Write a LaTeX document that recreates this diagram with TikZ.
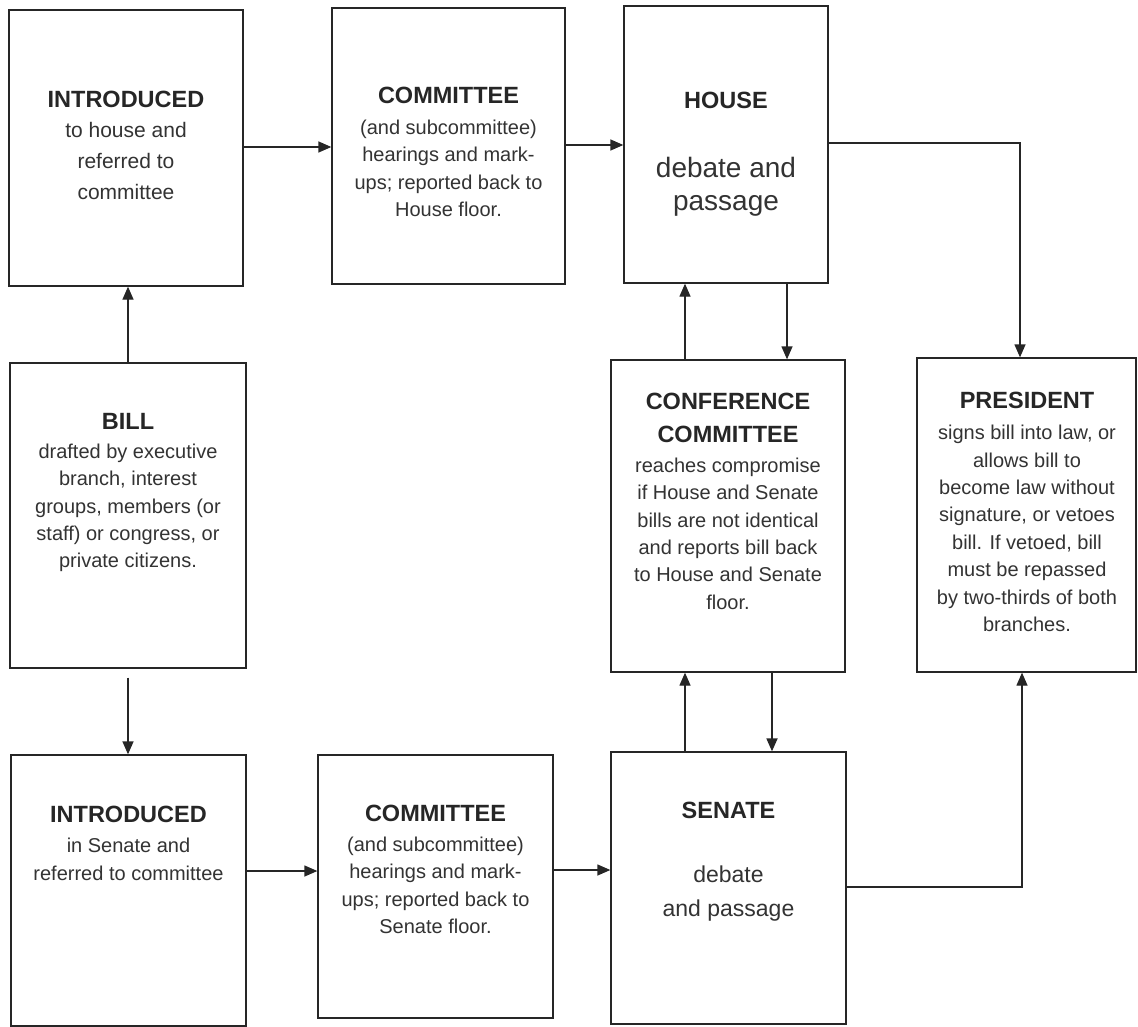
\documentclass[tikz,border=0pt]{standalone}
\usepackage{fontspec}
\setmainfont{Liberation Sans}
\usetikzlibrary{arrows.meta}
\begin{document}
\begin{tikzpicture}[x=1pt,y=-1pt,
  box/.style={draw=black!85, line width=1.3pt, rectangle, inner sep=0pt},
  ttl/.style={anchor=base, inner sep=0pt, text=black!85, align=center, font=\fontsize{23.5}{33}\selectfont\bfseries},
  bdy/.style={anchor=north, inner sep=0pt, text=black!80, align=center, font=\fontsize{20}{27.4}\selectfont},
  arr/.style={draw=black!85, line width=1.3pt, -{Triangle[length=13pt,width=11pt]}}
]
\useasboundingbox[fill=white] (0,0) rectangle (1138,1027);

% boxes
\node[box, minimum width=234, minimum height=276] (introH) at (126,148) {};
\node[box, minimum width=233, minimum height=276] (commH) at (448.5,146) {};
\node[box, minimum width=204, minimum height=277] (house) at (726,144.5) {};
\node[box, minimum width=236, minimum height=305] (bill) at (128,515.5) {};
\node[box, minimum width=234, minimum height=312] (conf) at (728,516) {};
\node[box, minimum width=219, minimum height=314] (pres) at (1026.5,515) {};
\node[box, minimum width=235, minimum height=271] (introS) at (128.5,890.5) {};
\node[box, minimum width=235, minimum height=263] (commS) at (435.5,886.5) {};
\node[box, minimum width=235, minimum height=272] (senate) at (728.5,888) {};

% texts
\node[ttl] (introHt) at (126,107.5) {INTRODUCED};
\node[bdy, font=\fontsize{21}{31}\selectfont] (introHb) at (126,122) {to house and\\referred to\\committee};

\node[ttl] (commHt) at (448.5,103.5) {COMMITTEE};
\node[bdy] (commHb) at (448.5,119.6) {(and subcommittee)\\hearings and mark-\\ups; reported back to\\House floor.};

\node[ttl] (houset) at (726,108.5) {HOUSE};
\node[bdy, font=\fontsize{28}{33}\selectfont] (houseb) at (726,157) {debate and\\passage};

\node[ttl] (billt) at (128,429.5) {BILL};
\node[bdy] (billb) at (128,443.6) {drafted by executive\\branch, interest\\groups, members (or\\staff) or congress, or\\private citizens.};

\node[ttl, anchor=north] (conft) at (728,393) {CONFERENCE\\COMMITTEE};
\node[bdy] (confb) at (728,457.6) {reaches compromise\\if House and Senate\\bills are not identical\\and reports bill back\\to House and Senate\\floor.};

\node[ttl] (prest) at (1027,408.5) {PRESIDENT};
\node[bdy] (presb) at (1027,425) {signs bill into law, or\\allows bill to\\become law without\\signature, or vetoes\\bill. If vetoed, bill\\must be repassed\\by two-thirds of both\\branches.};

\node[ttl] (introSt) at (128.5,822.5) {INTRODUCED};
\node[bdy, font=\fontsize{20}{28}\selectfont] (introSb) at (128.5,837.6) {in Senate and\\referred to committee};

\node[ttl] (commSt) at (435.5,821.5) {COMMITTEE};
\node[bdy] (commSb) at (435.5,836.6) {(and subcommittee)\\hearings and mark-\\ups; reported back to\\Senate floor.};

\node[ttl] (senatet) at (728.5,818.5) {SENATE};
\node[bdy, font=\fontsize{23}{34}\selectfont] (senateb) at (728.5,866) {debate\\and passage};

% connectors
\coordinate (hp) at (1020,143);
\coordinate (sp) at (1022,887);
\draw[arr] (introH.east |- 0,147) -- (commH.west |- 0,147);
\draw[arr] (commH.east |- 0,145) -- (house.west |- 0,145);
\draw[arr] (house.east |- hp) -- (hp) -- (hp |- pres.north);
\draw[arr] (bill.north) -- (bill.north |- introH.south);
\draw[arr, shorten <=9pt] (bill.south) -- (bill.south |- introS.north);
\draw[arr] (conf.north -| 685,0) -- (house.south -| 685,0);
\draw[arr] (house.south -| 787,0) -- (conf.north -| 787,0);
\draw[arr] (senate.north -| 685,0) -- (conf.south -| 685,0);
\draw[arr, line width=1.8pt] (conf.south -| 772,0) -- (senate.north -| 772,0);
\draw[arr] (introS.east |- 0,871) -- (commS.west |- 0,871);
\draw[arr] (commS.east |- 0,870) -- (senate.west |- 0,870);
\draw[arr] (senate.east |- sp) -- (sp) -- (sp |- pres.south);
\end{tikzpicture}
\end{document}
